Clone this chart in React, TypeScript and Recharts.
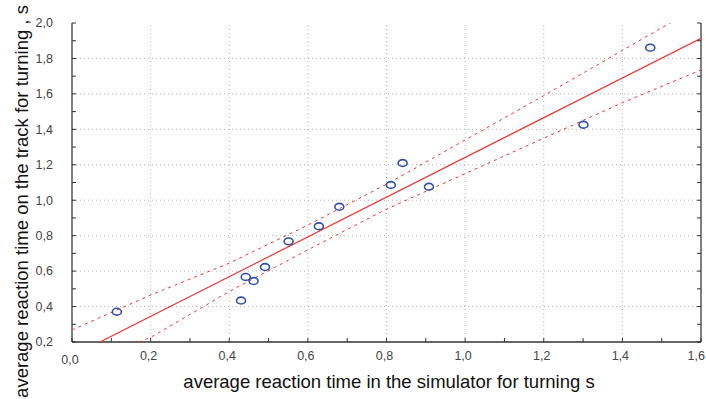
import React from "react";
import { ScatterChart, Scatter, XAxis, YAxis, ReferenceLine, Label } from "recharts";

// axis ticks (minor every 0,1 — labels only on the even ones)
const xTicks = [0, 0.1, 0.2, 0.3, 0.4, 0.5, 0.6, 0.7, 0.8, 0.9, 1.0, 1.1, 1.2, 1.3, 1.4, 1.5, 1.6];
const yTicks = [0.2, 0.3, 0.4, 0.5, 0.6, 0.7, 0.8, 0.9, 1.0, 1.1, 1.2, 1.3, 1.4, 1.5, 1.6, 1.7, 1.8, 1.9, 2.0];
const xGrid = [0.2, 0.4, 0.6, 0.8, 1.0, 1.2, 1.4];
const yGrid = [0.4, 0.6, 0.8, 1.0, 1.2, 1.4, 1.6, 1.8];

// measured points
const simulatorTimes = [0.114, 0.43, 0.442, 0.462, 0.491, 0.551, 0.628, 0.68, 0.811, 0.841, 0.908, 1.301, 1.471];
const trackTimes = [0.371, 0.434, 0.567, 0.544, 0.623, 0.768, 0.853, 0.963, 1.086, 1.21, 1.076, 1.426, 1.861];

// regression line and its confidence bands
const fitX = [0.071, 1.6];
const fitY = [0.2, 1.914];
const upperX = [0, 0.2, 0.4, 0.6, 0.8, 1.0, 1.2, 1.4, 1.545];
const upperY = [0.268, 0.465, 0.645, 0.86, 1.09, 1.34, 1.59, 1.845, 2.03];
const lowerX = [0.17, 0.2, 0.3, 0.4, 0.6, 0.8, 1.0, 1.2, 1.4, 1.6];
const lowerY = [0.2, 0.226, 0.355, 0.485, 0.72, 0.95, 1.15, 1.35, 1.55, 1.735];

const zip = (xs: number[], ys: number[]) => xs.map((x, i) => ({ x, y: ys[i] }));
const points = zip(simulatorTimes, trackTimes);
const fit = zip(fitX, fitY);
const upper = zip(upperX, upperY);
const lower = zip(lowerX, lowerY);

const FONT = "'Liberation Sans', Arial, sans-serif";
const RED = "#ee3333";
const isMajor = (v: number) => Math.round(v * 10) % 2 === 0;
const fmt = (v: number) => v.toFixed(1).replace(".", ",");

const BottomTick = ({ x, y, payload }: any) => {
  const v = payload.value;
  const axisY = y - 9;
  const last = v === xTicks[xTicks.length - 1];
  return (
    <g>
      <line x1={x} x2={x} y1={axisY} y2={axisY - 4} stroke="#333" />
      {isMajor(v) && (
        <text
          x={last ? 705 : x - 2}
          y={y + (v === 0 ? 4 : 0)}
          dy="0.71em"
          textAnchor={last ? "end" : "middle"}
          fontSize={12.5}
          fill="#444"
          fontFamily={FONT}
        >
          {fmt(v)}
        </text>
      )}
    </g>
  );
};

const LeftTick = ({ x, y, payload }: any) => {
  const v = payload.value;
  const axisX = x + 19;
  return (
    <g>
      <line x1={axisX} x2={axisX + 4} y1={y} y2={y} stroke="#333" />
      {isMajor(v) && (
        <text x={x} y={y} dy="0.35em" textAnchor="end" fontSize={12.5} fill="#444" fontFamily={FONT}>
          {fmt(v)}
        </text>
      )}
    </g>
  );
};

const TopTick = ({ x, y }: any) => <line x1={x} x2={x} y1={y} y2={y + 4} stroke="#333" />;
const RightTick = ({ x, y }: any) => <line x1={x} x2={x - 4} y1={y} y2={y} stroke="#333" />;

const Ring = (p: any) => (
  <ellipse cx={p.cx} cy={p.cy} rx={4.5} ry={3.4} fill="none" stroke="#2f4fa8" strokeWidth={1.6} />
);
const NoDot = () => <g />;

export default function App() {
  return (
    <div style={{ position: "absolute", left: 0, top: 0, background: "#fff" }}>
      <ScatterChart width={706} height={399} margin={{ top: 23, right: 0, bottom: 0, left: 0 }}>
        <XAxis
          xAxisId="bottom"
          dataKey="x"
          type="number"
          domain={[0, 1.6]}
          ticks={xTicks}
          interval={0}
          allowDataOverflow
          height={57}
          tickSize={0}
          tickMargin={9}
          tickLine={false}
          axisLine={{ stroke: "#333", strokeWidth: 1.5 }}
          tick={BottomTick}
        >
          <Label
            content={(props: any) => {
              const vb = props.viewBox;
              return (
                <text x={vb.x + vb.width / 2 + 2.5} y={vb.y + vb.height - 11} textAnchor="middle" fontSize={18.5} fill="#111" fontFamily={FONT}>
                  average reaction time in the simulator for turning s
                </text>
              );
            }}
          />
        </XAxis>
        <XAxis
          xAxisId="top"
          orientation="top"
          dataKey="x"
          type="number"
          domain={[0, 1.6]}
          ticks={xTicks}
          interval={0}
          allowDataOverflow
          height={0}
          tickSize={0}
          tickMargin={0}
          tickLine={false}
          axisLine={{ stroke: "#000" }}
          tick={TopTick}
        />
        <YAxis
          yAxisId="left"
          dataKey="y"
          type="number"
          domain={[0.2, 2.0]}
          ticks={yTicks}
          interval={0}
          allowDataOverflow
          width={72}
          tickSize={0}
          tickMargin={19}
          tickLine={false}
          axisLine={{ stroke: "#000" }}
          tick={LeftTick}
        >
          <Label
            content={() => (
              <text x={28} y={201.5} transform="rotate(-90, 28, 201.5)" textAnchor="middle" fontSize={18.5} fill="#111" fontFamily={FONT}>
                average reaction time on the track for turning , s
              </text>
            )}
          />
        </YAxis>
        <YAxis
          yAxisId="right"
          orientation="right"
          dataKey="y"
          type="number"
          domain={[0.2, 2.0]}
          ticks={yTicks}
          interval={0}
          allowDataOverflow
          width={5}
          tickSize={0}
          tickMargin={0}
          tickLine={false}
          axisLine={{ stroke: "#000" }}
          tick={RightTick}
        />

        {xGrid.map((v) => (
          <ReferenceLine key={"gx" + v} x={v} xAxisId="bottom" yAxisId="left" stroke="#b5b5b5" strokeDasharray="1 3" />
        ))}
        {yGrid.map((v) => (
          <ReferenceLine key={"gy" + v} y={v} xAxisId="bottom" yAxisId="left" stroke="#b5b5b5" strokeDasharray="1 3" />
        ))}

        <Scatter
          data={upper}
          xAxisId="top"
          yAxisId="right"
          line={{ stroke: RED, strokeWidth: 1, strokeDasharray: "3 4" }}
          shape={NoDot}
          isAnimationActive={false}
        />
        <Scatter
          data={lower}
          xAxisId="bottom"
          yAxisId="left"
          line={{ stroke: RED, strokeWidth: 1, strokeDasharray: "3 4" }}
          shape={NoDot}
          isAnimationActive={false}
        />
        <Scatter
          data={fit}
          xAxisId="bottom"
          yAxisId="left"
          line={{ stroke: RED, strokeWidth: 1.2 }}
          shape={NoDot}
          isAnimationActive={false}
        />
        <Scatter data={points} xAxisId="bottom" yAxisId="left" shape={Ring} isAnimationActive={false} />
      </ScatterChart>
    </div>
  );
}
